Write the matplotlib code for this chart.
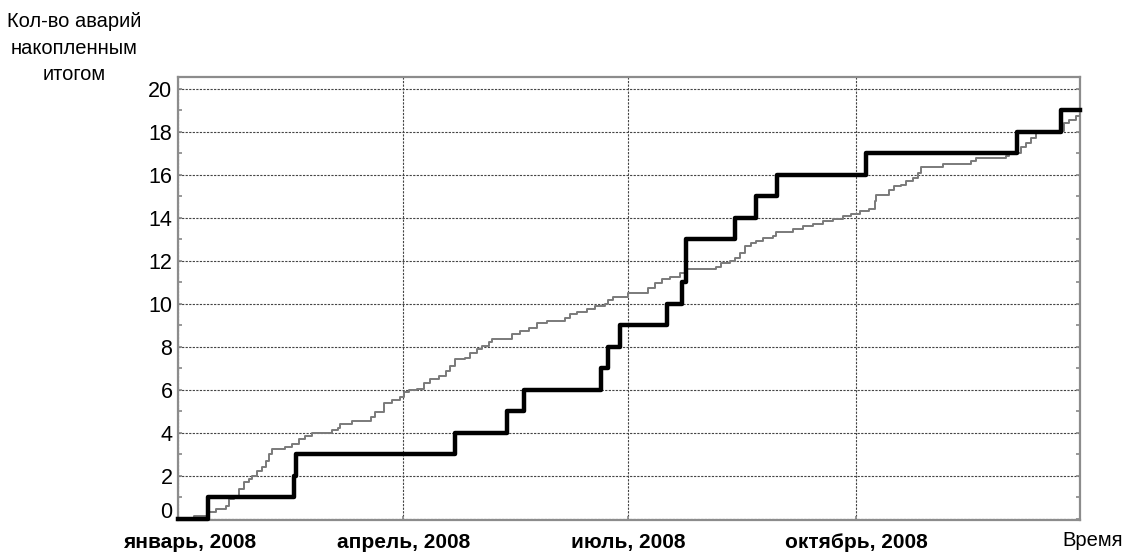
import numpy as np
import matplotlib
matplotlib.use("Agg")
import matplotlib.pyplot as plt
import matplotlib.transforms as mtransforms

plt.rcParams['font.family'] = ['Liberation Sans', 'DejaVu Sans']

# день года (2008, 1 января = 0) и накопленное число аварий — факт
fact_day = [0, 12.1, 46.8, 47.6, 112.1, 133.1, 139.9, 171, 173.8, 178.6,
            197.6, 203.6, 205.2, 225, 233.7, 241.9, 278.2, 339.1, 356.9, 364.5]
fact_cnt = [0, 1, 2, 3, 4, 5, 6, 7, 8, 9,
            10, 11, 13, 14, 15, 16, 17, 18, 19, 19]

# расчётная (модельная) кривая накопленных аварий
model_day = [4.4, 6.5, 11.8, 15.2, 19.2, 20.6, 22.6, 24.6, 26.6, 28.6,
             30, 32, 34, 35.4, 36.7, 38, 43.4, 46.1, 48.8, 51.5,
             54.2, 62.2, 64.6, 65.5, 70.4, 77.8, 79.8, 83.2, 86.6, 89.9,
             91.3, 93.3, 96.7, 99.3, 102, 105.4, 108.1, 110.1, 112.1, 116.1,
             118.1, 120.8, 122.9, 125.5, 126.9, 135, 138.3, 141.7, 145, 149.1,
             156.5, 158.5, 161.2, 165.2, 168.5, 172.6, 173.9, 175.9, 182, 190,
             192.7, 195.4, 198.8, 202.8, 204.8, 217.6, 219.6, 223, 225, 227,
             229, 231.7, 233.7, 236.4, 240.4, 241.8, 248.5, 252.5, 256.6, 260.6,
             264.6, 268.7, 272, 275.4, 279.4, 281.5, 282.1, 287.5, 289.5, 292.2,
             294.2, 296.9, 298.9, 300.3, 309, 320.4, 322.5, 334.6, 335.9, 340.6,
             342.6, 344.6, 346.7, 348.7, 358.1, 360.1, 362.8, 364.5]
model_cnt = [0.0, 0.14, 0.31, 0.46, 0.62, 0.93, 1.08, 1.39, 1.70, 1.86,
             2.0, 2.24, 2.4, 2.7, 3.02, 3.25, 3.33, 3.48, 3.71, 3.87,
             3.98, 4.14, 4.25, 4.41, 4.56, 4.72, 4.95, 5.41, 5.54, 5.65,
             5.91, 5.99, 6.06, 6.34, 6.5, 6.65, 6.88, 7.11, 7.46, 7.5,
             7.73, 7.89, 8.04, 8.22, 8.35, 8.58, 8.74, 8.9, 9.13, 9.2,
             9.36, 9.51, 9.62, 9.74, 9.9, 9.98, 10.2, 10.33, 10.49, 10.75,
             10.98, 11.14, 11.26, 11.45, 11.6, 11.73, 11.91, 11.99, 12.14, 12.38,
             12.68, 12.84, 12.91, 13.07, 13.15, 13.33, 13.46, 13.61, 13.72, 13.84,
             13.95, 14.07, 14.2, 14.3, 14.42, 14.77, 15.08, 15.31, 15.47, 15.55,
             15.7, 15.86, 16.09, 16.35, 16.52, 16.63, 16.78, 16.89, 17.01, 17.29,
             17.48, 17.7, 17.94, 18.04, 18.41, 18.56, 18.72, 18.8]

month_days = [0, 91, 182, 274]
month_labels = ['январь, 2008', 'апрель, 2008', 'июль, 2008', 'октябрь, 2008']
y_ticks = [0, 2, 4, 6, 8, 10, 12, 14, 16, 18, 20]

fig = plt.figure(figsize=(11.23, 5.56), dpi=100)
ax = fig.add_axes([0.1585, 0.0647, 0.8032, 0.7968])

ax.step(model_day, model_cnt, where='post', color='#7a7a7a', lw=1.4, zorder=3)
ax.step(fact_day, fact_cnt, where='post', color='black', lw=3.2, zorder=4,
        clip_on=False)

ax.set_xlim(0, 364.5)
ax.set_ylim(-0.05, 20.55)

ax.set_yticks(y_ticks)
ax.set_yticks(np.arange(1, 21, 2), minor=True)
ax.set_yticklabels([str(v) for v in y_ticks], fontsize=15.5)
ax.set_xticks(month_days)
ax.set_xticklabels(month_labels, fontsize=15, fontweight='bold')

ax.grid(True, which='major', color='#444444', lw=0.8, linestyle=(0, (2, 1.2)))
ax.tick_params(axis='both', which='both', direction='in', color='#888888',
               length=3, width=1.2)
ax.tick_params(axis='y', which='both', right=True, pad=4)
ax.tick_params(axis='x', pad=9)

for s in ax.spines.values():
    s.set_color('#8c8c8c')
    s.set_linewidth(1.6)

# подпись нуля чуть выше нижней границы
zero_lbl = ax.get_yticklabels()[0]
zero_lbl.set_transform(zero_lbl.get_transform() +
                       mtransforms.ScaledTranslation(0, 9 / 100, fig.dpi_scale_trans))
# январская подпись сдвинута вправо от левого края
jan_lbl = ax.get_xticklabels()[0]
jan_lbl.set_transform(jan_lbl.get_transform() +
                      mtransforms.ScaledTranslation(12 / 100, 0, fig.dpi_scale_trans))

fig.text(0.066, 0.978, 'Кол-во аварий\nнакопленным\nитогом', ha='center',
         va='top', fontsize=14.5, linespacing=1.5)
fig.text(0.973, 0.028, 'Время', ha='center', va='center', fontsize=14.5)

fig.savefig('out.png', dpi=100, facecolor='white')
